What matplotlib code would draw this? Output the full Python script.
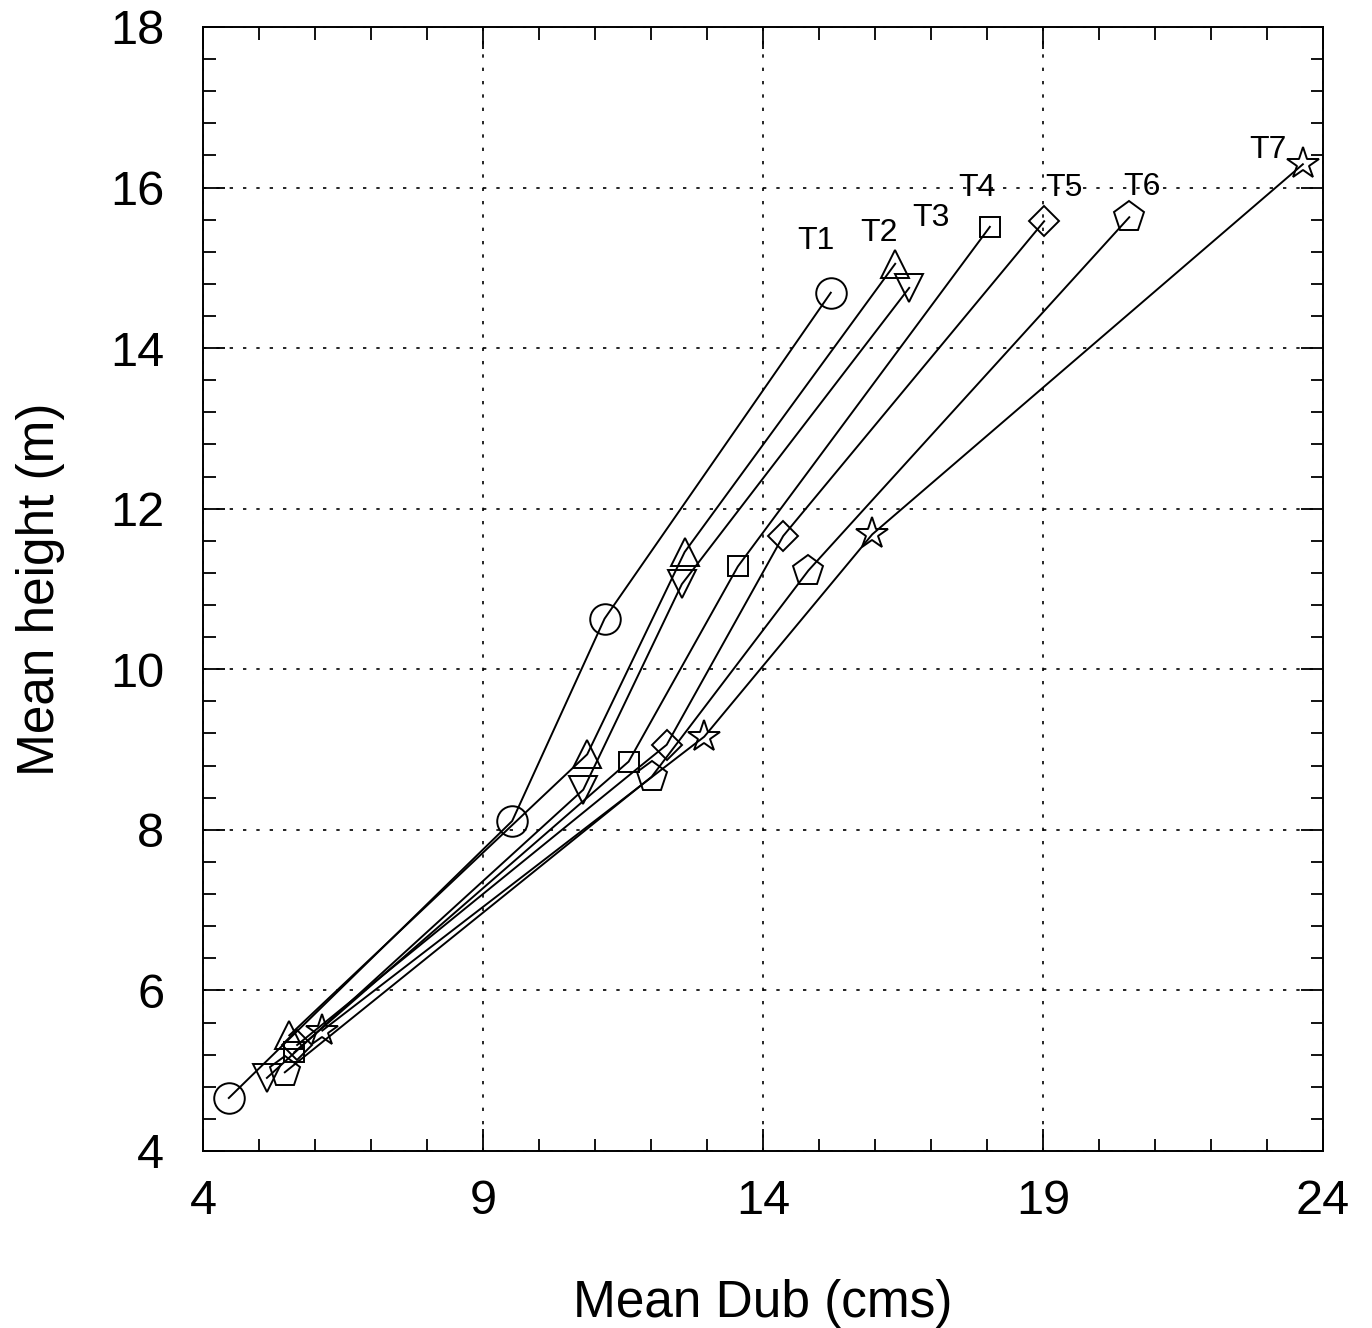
import numpy as np
import matplotlib
matplotlib.use("Agg")
import matplotlib.pyplot as plt
from matplotlib.ticker import MultipleLocator

# data
t1_x = [4.46, 9.52, 11.17, 15.21]
t1_y = [4.66, 8.11, 10.63, 14.69]
t2_x = [5.54, 10.86, 12.60, 16.36]
t2_y = [5.44, 8.94, 11.46, 15.05]
t3_x = [5.14, 10.79, 12.55, 16.61]
t3_y = [4.91, 8.50, 11.06, 14.75]
t4_x = [5.63, 11.60, 13.55, 18.05]
t4_y = [5.23, 8.85, 11.28, 15.51]
t5_x = [5.68, 12.28, 14.36, 19.02]
t5_y = [5.32, 9.06, 11.66, 15.58]
t6_x = [5.46, 12.01, 14.81, 20.54]
t6_y = [4.98, 8.66, 11.23, 15.63]
t7_x = [6.13, 12.95, 15.95, 23.64]
t7_y = [5.50, 9.16, 11.68, 16.29]

x_ticks = [4, 9, 14, 19, 24]
y_ticks = [4, 6, 8, 10, 12, 14, 16, 18]

series = [(t1_x, t1_y), (t2_x, t2_y), (t3_x, t3_y), (t4_x, t4_y),
          (t5_x, t5_y), (t6_x, t6_y), (t7_x, t7_y)]
names = ['T1', 'T2', 'T3', 'T4', 'T5', 'T6', 'T7']
markers = ['o', '^', 'v', 's', 'D', 'p', '*']
msizes = [22, 20, 20, 15, 15, 23, 24]
# label offsets in points from the last marker
offsets = [(-11, 37), (-12, 22), (16, 50), (-9, 28), (14, 24), (9, 22), (-25, 10)]

plt.rcParams['font.family'] = ['Liberation Sans', 'DejaVu Sans']

fig = plt.figure(figsize=(13.72, 13.28), dpi=100)
ax = fig.add_axes([0.148, 0.1333, 0.8163, 0.8464])

for (xs, ys), nm, mk, ms, off in zip(series, names, markers, msizes, offsets):
    ax.plot(xs, ys, color='black', lw=1.4, marker=mk, ms=ms,
            mfc='none', mec='black', mew=1.4)
    ax.annotate(nm, (xs[-1], ys[-1]), xytext=off, textcoords='offset points',
                ha='center', va='center', fontsize=23)

ax.set_xlim(4, 24)
ax.set_ylim(4, 18)
ax.set_xticks(x_ticks)
ax.set_yticks(y_ticks)
ax.xaxis.set_minor_locator(MultipleLocator(1))
ax.yaxis.set_minor_locator(MultipleLocator(0.4))
ax.tick_params(which='both', direction='in', top=True, right=True, width=1.3)
ax.tick_params(which='major', length=16, labelsize=35)
ax.tick_params(axis='x', which='major', pad=20)
ax.tick_params(axis='y', which='major', pad=28)
ax.tick_params(which='minor', length=9)
ax.grid(True, which='major', linestyle=(0, (2, 6)), color='black', lw=1.2)
for sp in ax.spines.values():
    sp.set_linewidth(1.4)

ax.set_xlabel('Mean Dub (cms)', fontsize=37, labelpad=40)
ax.set_ylabel('Mean height (m)', fontsize=37, labelpad=32)

fig.savefig('out.png', dpi=100)
